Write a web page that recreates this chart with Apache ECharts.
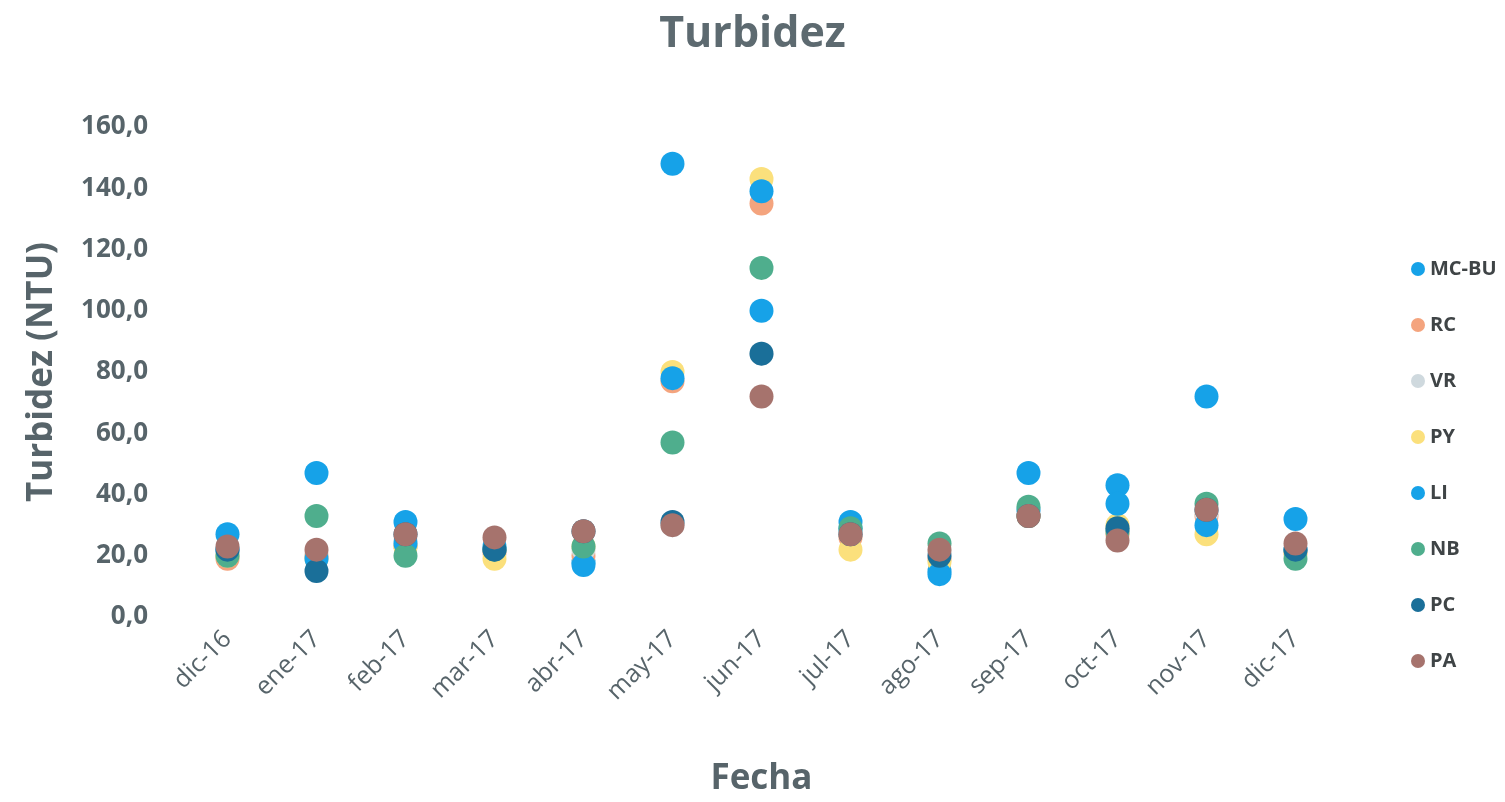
<!DOCTYPE html>
<html>
<head>
<meta charset="utf-8">
<script src="https://cdn.jsdelivr.net/npm/echarts@6/dist/echarts.min.js"></script>
<style>
  html, body { margin: 0; padding: 0; background: #fff; }
  #chart { width: 1505px; height: 802px; }
</style>
</head>
<body>
<div id="chart"></div>
<script>
const months = ["dic-16", "ene-17", "feb-17", "mar-17", "abr-17", "may-17", "jun-17",
  "jul-17", "ago-17", "sep-17", "oct-17", "nov-17", "dic-17"];
const yTicks = [0, 20, 40, 60, 80, 100, 120, 140, 160];

// valores (NTU)
const mcbu = [27, 47, 31, 22, 18, 148, 100, 31, 15, 47, 43, 72, 32];
const rc   = [19, 20, 23, 21, 20, 77, 135, 26, 19, 33, 27, 33, 21];
const vr   = [21, 20, 25, 22, 22, 30, 86, 28, 21, 34, 29, 34, 22];
const py   = [20, 19, 23, 19, 23, 80, 143, 22, 18, 33, 30, 27, 21];
const li   = [22, 19, 24, 23, 17, 78, 139, 29, 14, 35, 37, 30, 22];
const nb   = [20, 33, 20, 22, 23, 57, 114, 29, 24, 36, 28, 37, 19];
const pc   = [22, 15, 27, 22, 28, 31, 86, 27, 20, 33, 29, 35, 22];
const pa   = [23, 22, 27, 26, 28, 30, 72, 27, 22, 33, 25, 35, 24];

const seriesDefs = [
  { name: "MC-BU", data: mcbu, color: "#16a2e8" },
  { name: "RC", data: rc, color: "#f4a47e" },
  { name: "VR", data: vr, color: "#cfd9de" },
  { name: "PY", data: py, color: "#fbe07c" },
  { name: "LI", data: li, color: "#16a2e8" },
  { name: "NB", data: nb, color: "#4fae8d" },
  { name: "PC", data: pc, color: "#1a6f99" },
  { name: "PA", data: pa, color: "#a6736d" },
];

const chart = echarts.init(document.getElementById("chart"));
const labelColor = "#57646a";
const font = "'Open Sans', 'Noto Sans', sans-serif";

const option = {
  backgroundColor: "#fff",
  animation: false,
  title: {
    text: "Turbidez",
    left: "center",
    top: 8,
    textStyle: { fontFamily: font, fontSize: 43, fontWeight: "bold", color: "#5d6a70" },
  },
  legend: {
    orient: "vertical",
    left: 1406,
    top: 254,
    itemWidth: 14,
    itemHeight: 14,
    itemGap: 36,
    icon: "circle",
    data: seriesDefs.map(s => s.name),
    textStyle: { fontFamily: font, fontSize: 20, fontWeight: "bold", color: "#3f4446" },
  },
  grid: { left: 183, right: 165, top: 127, bottom: 184 },
  xAxis: {
    type: "category",
    data: months,
    name: "Fecha",
    nameLocation: "middle",
    nameGap: 145,
    nameTextStyle: { fontFamily: font, fontSize: 35, fontWeight: "bold", color: labelColor },
    axisLine: { show: false },
    axisTick: { show: false },
    splitLine: { show: false },
    axisLabel: {
      rotate: 45,
      interval: 0,
      margin: 18,
      fontFamily: font,
      fontSize: 25,
      color: labelColor,
    },
  },
  yAxis: {
    type: "value",
    min: yTicks[0],
    max: yTicks[yTicks.length - 1],
    interval: 20,
    name: "Turbidez (NTU)",
    nameLocation: "middle",
    nameGap: 123,
    nameTextStyle: { fontFamily: font, fontSize: 35, fontWeight: "bold", color: labelColor },
    axisLine: { show: false },
    axisTick: { show: false },
    splitLine: { show: false },
    axisLabel: {
      margin: 35,
      fontFamily: font,
      fontSize: 26,
      fontWeight: "bold",
      color: labelColor,
      formatter: v => v.toFixed(1).replace(".", ","),
    },
  },
  series: seriesDefs.map(s => ({
    name: s.name,
    type: "scatter",
    data: s.data,
    symbolSize: 24,
    itemStyle: { color: s.color, opacity: 1 },
  })),
};

chart.setOption(option);
</script>
</body>
</html>
